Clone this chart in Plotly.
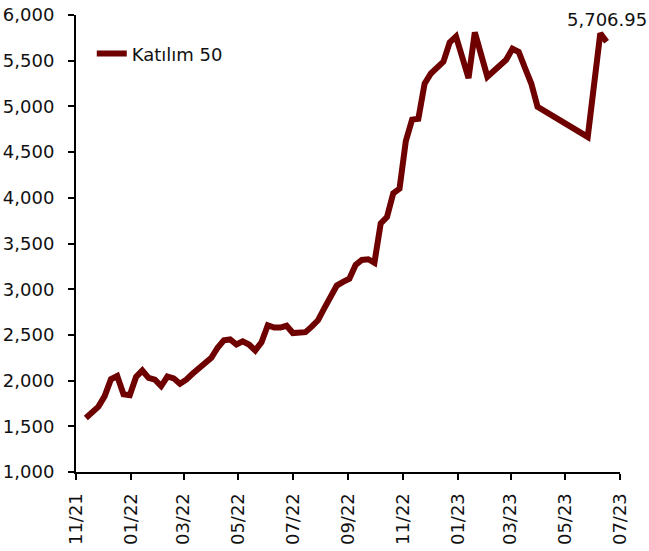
import plotly.graph_objects as go

dates = [
    "2021-11-12", "2021-11-19", "2021-11-26", "2021-12-03", "2021-12-10", "2021-12-17",
    "2021-12-24", "2021-12-31", "2022-01-07", "2022-01-14", "2022-01-21", "2022-01-28",
    "2022-02-04", "2022-02-11", "2022-02-18", "2022-02-25", "2022-03-04", "2022-03-11",
    "2022-03-18", "2022-03-25", "2022-04-01", "2022-04-08", "2022-04-15", "2022-04-22",
    "2022-04-29", "2022-05-06", "2022-05-13", "2022-05-20", "2022-05-27", "2022-06-03",
    "2022-06-10", "2022-06-17", "2022-06-24", "2022-07-01", "2022-07-08", "2022-07-15",
    "2022-07-22", "2022-07-29", "2022-08-05", "2022-08-12", "2022-08-19", "2022-08-26",
    "2022-09-02", "2022-09-09", "2022-09-16", "2022-09-23", "2022-09-30", "2022-10-07",
    "2022-10-14", "2022-10-21", "2022-10-28", "2022-11-04", "2022-11-11", "2022-11-18",
    "2022-11-25", "2022-12-02", "2022-12-09", "2022-12-16", "2022-12-23", "2022-12-30",
    "2023-01-13", "2023-01-20", "2023-02-03", "2023-02-10", "2023-02-17", "2023-02-24",
    "2023-03-03", "2023-03-10", "2023-03-17", "2023-03-24", "2023-03-31", "2023-05-26",
    "2023-06-09", "2023-06-16",
]
katilim50 = [
    1590, 1645, 1715, 1830, 2015, 2050,
    1850, 1840, 2040, 2110, 2030, 2010,
    1940, 2045, 2025, 1965, 2010, 2075,
    2140, 2195, 2250, 2360, 2440, 2450,
    2395, 2430, 2395, 2330, 2420, 2605,
    2580, 2580, 2600, 2520, 2530, 2530,
    2590, 2660, 2790, 2900, 3040, 3080,
    3115, 3265, 3320, 3328, 3290, 3720,
    3790, 4050, 4100, 4620, 4855, 4865,
    5250, 5360, 5430, 5490, 5700, 5765,
    5310, 5810, 5325, 5390, 5450, 5510,
    5630, 5595, 5420, 5250, 4995, 4666,
    5800, 5706.95,
]
series_name = "Katılım 50"
last_label = "5,706.95"

FONT = "DejaVu Sans"
LINE_COLOR = "#6E0000"

fig = go.Figure()
fig.add_trace(go.Scatter(
    x=dates, y=katilim50, mode="lines", name=series_name,
    line=dict(color=LINE_COLOR, width=6),
))

fig.add_annotation(
    x=dates[-1], y=katilim50[-1], text=last_label, showarrow=False,
    xanchor="center", yanchor="middle", yshift=22,
    font=dict(family=FONT, size=18, color="#111111"),
)

fig.update_layout(
    width=649, height=551, autosize=False,
    margin=dict(l=76, r=29, t=15, b=79, pad=0),
    paper_bgcolor="white", plot_bgcolor="white",
    font=dict(family=FONT, size=18, color="#111111"),
    showlegend=True,
    legend=dict(x=0.029, y=0.915, xanchor="left", yanchor="middle",
                bgcolor="rgba(0,0,0,0)", font=dict(family=FONT, size=18)),
)
fig.update_xaxes(
    type="date", range=["2021-11-01", "2023-07-01"],
    tick0="2021-11-01", dtick="M2", tickformat="%m/%y", tickangle=-90,
    showgrid=False, zeroline=False, automargin=False,
    showline=True, linecolor="black", linewidth=2,
    ticks="outside", ticklen=6, tickwidth=2, tickcolor="black",
    ticklabelstandoff=6,
)
fig.update_yaxes(
    range=[1000, 6000], dtick=500, tickformat=",d",
    showgrid=False, zeroline=False, automargin=False,
    showline=True, linecolor="black", linewidth=2,
    ticks="outside", ticklen=6, tickwidth=2, tickcolor="black",
    ticklabelstandoff=10,
)

fig.write_html("out.html", config={"displayModeBar": False},
               post_script="document.body.style.margin='0';")
